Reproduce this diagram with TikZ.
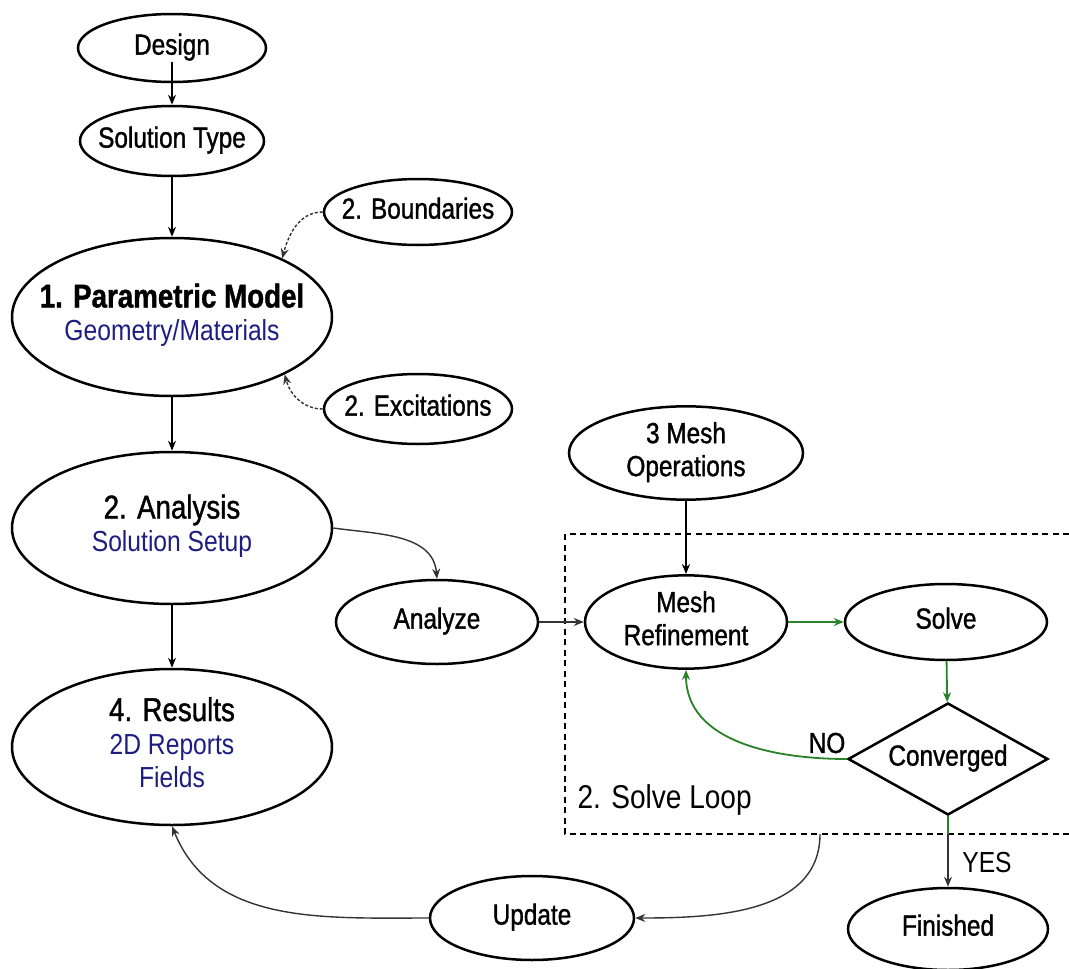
\documentclass[tikz,border=0pt]{standalone}
\usepackage{fontspec}
\setmainfont{Liberation Sans}[FakeStretch=0.84, FakeBold=1.2]
\newfontfamily\lightfont{Liberation Sans}[FakeStretch=0.85]
\usetikzlibrary{shapes.geometric,arrows.meta}
\definecolor{navy}{RGB}{30,30,130}
\definecolor{loopgreen}{RGB}{40,130,40}
\newcommand{\ctext}[1]{\makebox[0pt]{\begin{tabular}{@{}c@{}}#1\end{tabular}}}
\newcommand{\bigline}[1]{{\fontsize{33}{38}\selectfont #1}}
\newcommand{\sub}[1]{{\lightfont\color{navy}#1}}
\begin{document}
\begin{tikzpicture}[x=1pt,y=1pt,
  every node/.style={font=\fontsize{29}{33}\selectfont},
  ell/.style={draw, ellipse, line width=2.5pt, inner sep=0pt},
  dia/.style={draw, diamond, line width=2.5pt, inner sep=0pt},
  arr/.style={-{Stealth[length=10pt,width=8pt]}, line width=1.8pt},
  thinarr/.style={-{Stealth[length=10pt,width=8pt]}, line width=1.4pt, black!80},
  greenarr/.style={-{Stealth[length=10pt,width=8pt]}, line width=1.8pt, loopgreen},
  loopbox/.style={line width=2.4pt, dash pattern=on 6pt off 4.5pt}
]
\path[use as bounding box] (0,0) rectangle (1069,-969);
\clip (0,0) rectangle (1069,-969);

% nodes
\node[ell, minimum width=188, minimum height=68] (design) at (172,-48) {\ctext{Design}};
\node[ell, minimum width=184, minimum height=70] (soltype) at (172,-141) {\ctext{Solution Type}};
\node[ell, minimum width=188, minimum height=66] (bound) at (418,-212) {\ctext{2. Boundaries}};
\node[ell, minimum width=320, minimum height=158] (param) at (172,-317)
  {\ctext{\bigline{\bfseries 1. Parametric Model}\\ \sub{Geometry/Materials}}};
\node[ell, minimum width=188, minimum height=70] (excit) at (418,-409) {\ctext{2. Excitations}};
\node[ell, minimum width=234, minimum height=92] (meshops) at (686,-453) {\ctext{3 Mesh\\ Operations}};
\node[ell, minimum width=320, minimum height=152] (analysis) at (172,-528)
  {\ctext{\bigline{2. Analysis}\\ \sub{Solution Setup}}};
\node[ell, minimum width=202, minimum height=84] (analyze) at (437,-622) {\ctext{Analyze}};
\node[ell, minimum width=320, minimum height=156] (results) at (172,-747)
  {\ctext{\bigline{4. Results}\\ \sub{2D Reports}\\ \sub{Fields}}};
\node[ell, minimum width=202, minimum height=80] (meshref) at (686,-622) {\ctext{Mesh\\ Refinement}};
\node[ell, minimum width=202, minimum height=76] (solve) at (946,-622) {\ctext{Solve}};
\node[dia, minimum width=200, minimum height=112] (conv) at (948,-759) {\ctext{Converged}};
\node[ell, minimum width=200, minimum height=82] (finished) at (948,-929) {\ctext{Finished}};
\node[ell, minimum width=204, minimum height=84] (update) at (532,-918) {\ctext{Update}};

% solve loop frame
\draw[loopbox] (1090,-534) -- (565,-534) -- (565,-834) -- (1090,-834);
\node[anchor=west, font=\fontsize{33}{38}\selectfont\lightfont] (looplabel) at (574,-800) {2. Solve Loop};
\node (nolabel) at (827,-743) {NO};
\node[font=\fontsize{29}{33}\selectfont\lightfont] (yeslabel) at (987,-863) {YES};
\coordinate (boxout) at (820,-834);
\coordinate (yesmid) at (948,-834);

% connectors
\draw[arr] ([yshift=-14pt]design.center) -- (soltype.north);
\draw[arr] (soltype) -- (param);
\draw[arr] (param) -- (analysis);
\draw[arr] (analysis) -- (results);
\draw[arr] (meshops) -- (meshref);
\draw[thinarr, densely dashed] (bound.west) to[out=180, in=75] (param.28);
\draw[thinarr, densely dashed] (excit.west) to[out=180, in=-75] (param.-27);
\draw[thinarr] (analysis.east) to[out=-8, in=95] (analyze.north);
\draw[thinarr] (analyze) -- (meshref);
\draw[greenarr] (meshref) -- (solve);
\draw[greenarr] (solve) -- (conv);
\draw[greenarr] (conv.west) to[out=180, in=-90] (meshref.south);
\draw[line width=1.8pt, loopgreen] (conv.south) -- (yesmid);
\draw[thinarr] (yesmid) -- (finished.north);
\draw[thinarr] (boxout) to[out=-90, in=0] (update.east);
\draw[thinarr] (update.west) to[out=180, in=-68] (results.south);
\end{tikzpicture}
\end{document}
